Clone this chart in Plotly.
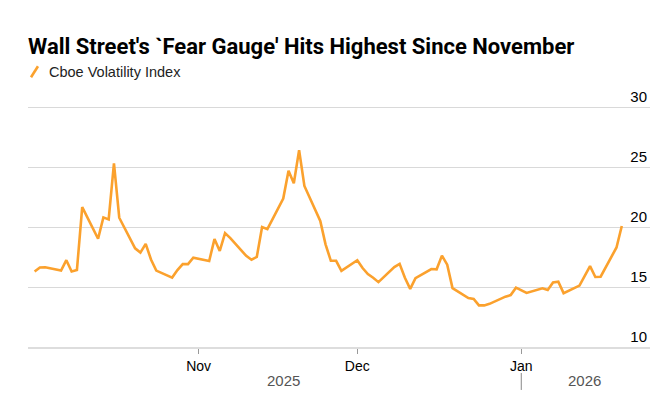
import plotly.graph_objects as go

# ---- data ----
dates = [
    "2025-10-01", "2025-10-02", "2025-10-03", "2025-10-06", "2025-10-07", "2025-10-08", "2025-10-09",
    "2025-10-10", "2025-10-13", "2025-10-14", "2025-10-15", "2025-10-16", "2025-10-17", "2025-10-20",
    "2025-10-21", "2025-10-22", "2025-10-23", "2025-10-24", "2025-10-27", "2025-10-28", "2025-10-29",
    "2025-10-30", "2025-10-31", "2025-11-03", "2025-11-04", "2025-11-05", "2025-11-06", "2025-11-07",
    "2025-11-10", "2025-11-11", "2025-11-12", "2025-11-13", "2025-11-14", "2025-11-17", "2025-11-18",
    "2025-11-19", "2025-11-20", "2025-11-21", "2025-11-24", "2025-11-25", "2025-11-26", "2025-11-27",
    "2025-11-28", "2025-12-01", "2025-12-02", "2025-12-03", "2025-12-04", "2025-12-05", "2025-12-08",
    "2025-12-09", "2025-12-10", "2025-12-11", "2025-12-12", "2025-12-15", "2025-12-16", "2025-12-17",
    "2025-12-18", "2025-12-19", "2025-12-22", "2025-12-23", "2025-12-24", "2025-12-25", "2025-12-26",
    "2025-12-29", "2025-12-30", "2025-12-31", "2026-01-02", "2026-01-05", "2026-01-06", "2026-01-07",
    "2026-01-08", "2026-01-09", "2026-01-12", "2026-01-13", "2026-01-14", "2026-01-15", "2026-01-16",
    "2026-01-19", "2026-01-20",
]
vix = [
    16.29, 16.63, 16.65, 16.37, 17.24, 16.30, 16.43,
    21.66, 19.03, 20.81, 20.64, 25.31, 20.78, 18.23,
    17.87, 18.60, 17.30, 16.37, 15.79, 16.42, 16.92,
    16.91, 17.44, 17.17, 19.00, 18.01, 19.50, 19.08,
    17.60, 17.28, 17.51, 20.00, 19.83, 22.38, 24.69,
    23.66, 26.42, 23.43, 20.52, 18.56, 17.19, 17.19,
    16.35, 17.24, 16.59, 16.08, 15.78, 15.41, 16.66,
    16.93, 15.77, 14.85, 15.74, 16.50, 16.48, 17.62,
    16.87, 14.91, 14.08, 14.00, 13.47, 13.47, 13.60,
    14.20, 14.33, 14.95, 14.51, 14.90, 14.75, 15.38,
    15.45, 14.49, 15.12, 15.98, 16.75, 15.84, 15.86,
    18.30, 20.09,
]
series_name = "Cboe Volatility Index"
title_text = "Wall Street's `Fear Gauge' Hits Highest Since November"
y_ticks = [10, 15, 20, 25, 30]
x_tick_dates = ["2025-11-01", "2025-12-01", "2026-01-01"]
x_tick_labels = ["Nov", "Dec", "Jan"]
year_labels = ["2025", "2026"]
year_label_pos = ["2025-11-17", "2026-01-13"]
year_break = "2026-01-01"

ORANGE = "#FBA12D"
FONT = "Liberation Sans, Arial, sans-serif"

# layout geometry (pixels)
W, H = 661, 397
PL, PR = 28, 650          # plot left / right
Y30, Y10 = 107, 347       # pixel rows of the 30 and 10 gridlines
PX_PER_UNIT = (Y10 - Y30) / 20.0
Y_TOP = 32.6              # headroom so the "30" label stays inside the plot area
TOP = Y30 - (Y_TOP - 30) * PX_PER_UNIT
PH = Y10 - TOP


def py(pix):
    """pixel row -> paper y"""
    return (Y10 - pix) / PH


def px(pix):
    return (pix - PL) / (PR - PL)


fig = go.Figure()
fig.add_trace(go.Scatter(
    x=dates, y=vix, mode="lines", name=series_name,
    line=dict(color=ORANGE, width=2.6), showlegend=False,
))

fig.update_layout(
    width=W, height=H,
    margin=dict(l=PL, r=W - PR, t=TOP, b=H - Y10, autoexpand=False),
    paper_bgcolor="white", plot_bgcolor="white",
    font=dict(family=FONT, color="#000000", size=12),
    title=dict(
        text="<b>" + title_text + "</b>",
        x=28 / W, xanchor="left", xref="container",
        y=1 - 46 / H, yanchor="middle", yref="container",
        font=dict(family="Roboto, Liberation Sans, sans-serif", size=22, color="#000000"),
    ),
    xaxis=dict(
        type="date",
        range=["2025-09-29 18:00", "2026-01-25 08:00"],
        tickvals=x_tick_dates, ticktext=x_tick_labels,
        ticks="outside", ticklen=5, tickwidth=1, tickcolor="#999999",
        showgrid=False, zeroline=False,
        showline=True, linecolor="#DDDDDD", linewidth=2,
        tickfont=dict(family=FONT, size=14, color="#000000"),
        fixedrange=True,
    ),
    yaxis=dict(
        range=[10, Y_TOP], side="right",
        tickvals=y_ticks,
        ticklabelposition="inside top",
        ticks="", showgrid=True, gridcolor="#D9D9D9", gridwidth=1,
        zeroline=False, showline=False,
        tickfont=dict(family=FONT, size=15, color="#000000"),
        fixedrange=True,
    ),
)

# legend (Bloomberg-style diagonal icon)
fig.add_shape(type="line", xref="paper", yref="paper",
              x0=px(31), x1=px(38), y0=py(77), y1=py(66),
              line=dict(color=ORANGE, width=2.6))
fig.add_annotation(xref="paper", yref="paper", x=px(47), y=py(72),
                   xanchor="left", yanchor="middle", showarrow=False,
                   text=series_name,
                   font=dict(family=FONT, size=14.5, color="#222222"))

# year labels and separator
for lbl, pos in zip(year_labels, year_label_pos):
    fig.add_annotation(xref="x", yref="paper", x=pos, y=py(381),
                       xanchor="center", yanchor="middle", showarrow=False,
                       text=lbl,
                       font=dict(family=FONT, size=15, color="#555555"))
fig.add_shape(type="line", xref="x", yref="paper", x0=year_break, x1=year_break,
              y0=py(390), y1=py(373),
              line=dict(color="#888888", width=1))

fig.write_html(
    "out.html",
    config={"displayModeBar": False},
    post_script="document.body.style.margin='0';document.body.style.overflow='hidden';",
)
